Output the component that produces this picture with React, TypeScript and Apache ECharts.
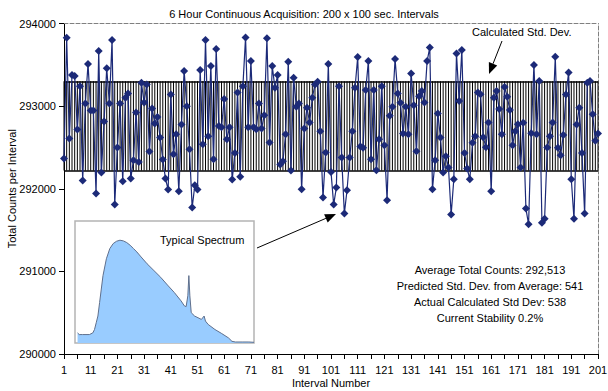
import React, { useEffect, useRef } from "react";
import * as echarts from "echarts";

const FONT = "'Liberation Sans', Arial, sans-serif";

const titleText = "6 Hour Continuous Acquisition: 200 x 100 sec. Intervals";
const yAxisName = "Total Counts per Interval";
const xAxisName = "Interval Number";

const intervalCounts: number[] = [
  292366, 293828, 292608, 293376, 293364, 292717, 293242, 292099, 293032, 293509,
  292947, 292947, 291941, 293667, 292196, 292814, 293457, 293032, 293800, 291808,
  292499, 293032, 292091, 293101, 293154, 292123, 292345, 292923, 292325, 293283,
  293044, 293263, 292451, 292972, 292790, 292867, 292620, 292354, 292123, 291990,
  293141, 292418, 292661, 291970, 292778, 293424, 293000, 292479, 291772, 292042,
  291990, 293436, 292539, 293800, 292636, 293485, 292358, 293691, 292758, 292745,
  293085, 292600, 292745, 292111, 292434, 293166, 292144, 293242, 293832, 292745,
  293545, 292745, 292721, 293032, 292729, 292891, 293820, 292560, 293485, 293222,
  293376, 292293, 292333, 292661, 293537, 292220, 293343, 292992, 293032, 291994,
  292729, 292980, 292802, 293101, 293263, 293295, 292697, 291893, 292438, 293509,
  292204, 291808, 292014, 293242, 292378, 291699, 291982, 292378, 292697, 293222,
  293594, 292511, 292495, 293194, 293545, 292358, 293194, 292224, 292600, 293242,
  292527, 291861, 292883, 292992, 293570, 293154, 293040, 292669, 292992, 292661,
  293396, 293012, 292455, 293121, 293182, 293044, 293545, 293711, 291994, 292345,
  292911, 292620, 292196, 292394, 292257, 291687, 292115, 293638, 293061, 293679,
  292434, 292245, 292115, 292556, 292636, 293166, 293145, 292624, 292503, 292802,
  291970, 293101, 293182, 292964, 292661, 293230, 293113, 292952, 292527, 292697,
  292782, 292257, 292798, 291760, 291570, 292673, 293497, 292661, 293303, 291590,
  291638, 292499, 292636, 292802, 293598, 292495, 292406, 292650, 293141, 293408,
  292115, 291638, 292778, 292980, 292434, 291699, 293283, 293303, 292903, 292580,
  292669,
];

const intervalLabels: string[] = intervalCounts.map((_, i) => String(i + 1));

// Calculated std. dev. band (one column per interval)
const bandLow = 292220;
const bandHigh = 293300;

const yMin = 290000;
const yMax = 294000;
const yInterval = 1000;

// Inset: typical spectrum
const spectrumChannels: number[] = [
  0, 10, 30, 70, 90, 100, 110, 120, 130, 150, 170, 190, 210, 230, 250, 270, 290, 310,
  330, 350, 370, 410, 450, 490, 530, 570, 610, 630, 640, 650, 656, 662, 670, 690, 710,
  730, 746, 754, 770, 810, 850, 890, 910, 930, 970, 1010, 1040,
];
const spectrumCounts: number[] = [
  300, 250, 250, 250, 300, 400, 600, 800, 1200, 2000, 2500, 2800, 2950, 3020, 3050, 3030,
  2980, 2900, 2800, 2700, 2580, 2350, 2150, 1950, 1720, 1500, 1250, 1100, 1080, 1400, 2000,
  1400, 900, 800, 750, 700, 800, 650, 550, 400, 280, 150, 50, 30, 30, 30, 20,
];

const statsLines: string[] = [
  "Average Total Counts: 292,513",
  "Predicted Std. Dev. from Average: 541",
  "Actual Calculated Std Dev: 538",
  "Current Stability 0.2%",
];

function arrow(x1: number, y1: number, x2: number, y2: number, len = 11, half = 4.5): any[] {
  const a = Math.atan2(y2 - y1, x2 - x1);
  const bx = x2 - len * Math.cos(a);
  const by = y2 - len * Math.sin(a);
  const px = -Math.sin(a) * half;
  const py = Math.cos(a) * half;
  return [
    {
      type: "line",
      shape: { x1, y1, x2: bx, y2: by },
      style: { stroke: "#000", lineWidth: 1 },
      z: 50,
    },
    {
      type: "polygon",
      shape: { points: [[x2, y2], [bx + px, by + py], [bx - px, by - py]] },
      style: { fill: "#000" },
      z: 50,
    },
  ];
}

export default function App() {
  const ref = useRef<HTMLDivElement>(null);

  useEffect(() => {
    document.body.style.margin = "0";
    if (!ref.current) return;
    const chart = echarts.init(ref.current, null, { renderer: "svg" });
    const txt = { fontFamily: FONT, fontSize: 11, color: "#000" };

    chart.setOption({
      animation: false,
      backgroundColor: "#fff",
      textStyle: { fontFamily: FONT },
      title: {
        text: titleText,
        left: "center",
        top: 3,
        textStyle: { ...txt, fontWeight: "normal" },
      },
      grid: [
        {
          left: 64,
          right: 10,
          top: 23.5,
          bottom: 37,
          containLabel: false,
          outerBoundsMode: "none",
        },
        {
          left: 75,
          top: 221,
          width: 179,
          height: 122,
          show: true,
          backgroundColor: "#fff",
          borderColor: "#b4b4b4",
          borderWidth: 1.5,
          containLabel: false,
          outerBoundsMode: "none",
          z: 5,
        },
      ],
      xAxis: [
        {
          type: "category",
          gridIndex: 0,
          data: intervalLabels,
          boundaryGap: false,
          position: "bottom",
          name: xAxisName,
          nameLocation: "middle",
          nameGap: 23,
          nameMoveOverlap: false,
          nameTextStyle: txt,
          axisLine: { lineStyle: { color: "#000", width: 1 } },
          axisTick: { interval: 4, length: 5, lineStyle: { color: "#000" } },
          axisLabel: { interval: 9, margin: 10, ...txt },
          splitLine: { show: false },
        },
        {
          type: "category",
          gridIndex: 0,
          data: intervalLabels,
          boundaryGap: false,
          position: "top",
          axisLine: { show: true, lineStyle: { color: "#808080", type: "dashed", width: 1 } },
          axisTick: { show: false },
          axisLabel: { show: false },
          splitLine: { show: false },
        },
        {
          type: "value",
          gridIndex: 1,
          min: -15,
          max: 1040,
          show: false,
        },
      ],
      yAxis: [
        {
          type: "value",
          gridIndex: 0,
          min: yMin,
          max: yMax,
          interval: yInterval,
          name: yAxisName,
          nameLocation: "middle",
          nameGap: 47,
          nameMoveOverlap: false,
          nameTextStyle: txt,
          axisLine: { show: true, lineStyle: { color: "#000", width: 1 } },
          axisTick: { show: true, length: 5, lineStyle: { color: "#000" } },
          axisLabel: { margin: 8, ...txt, formatter: (v: number) => String(v) },
          splitLine: { show: false },
        },
        {
          type: "value",
          gridIndex: 0,
          min: yMin,
          max: yMax,
          interval: yInterval,
          position: "right",
          axisLine: { show: true, lineStyle: { color: "#808080", type: "dashed", width: 1 } },
          axisTick: { show: false },
          axisLabel: { show: false },
          splitLine: { show: false },
        },
        {
          type: "value",
          gridIndex: 1,
          min: 0,
          max: 3620,
          show: false,
        },
      ],
      series: [
        {
          type: "bar",
          xAxisIndex: 1,
          yAxisIndex: 0,
          stack: "band",
          silent: true,
          data: intervalLabels.map(() => bandLow),
          itemStyle: { color: "rgba(0,0,0,0)" },
          barWidth: 1,
        },
        {
          type: "bar",
          xAxisIndex: 1,
          yAxisIndex: 0,
          stack: "band",
          silent: true,
          data: intervalLabels.map(() => bandHigh - bandLow),
          itemStyle: { color: "#000" },
          barWidth: 1,
          markLine: {
            silent: true,
            symbol: "none",
            label: { show: false },
            lineStyle: { color: "#000", type: "solid", width: 1.5 },
            data: [{ yAxis: bandLow }, { yAxis: bandHigh }],
          },
        },
        {
          type: "line",
          xAxisIndex: 0,
          yAxisIndex: 0,
          data: intervalCounts,
          symbol: "diamond",
          symbolSize: 8,
          showAllSymbol: true,
          itemStyle: { color: "#1c2a78" },
          lineStyle: { color: "#1c2a78", width: 1.2 },
          z: 10,
        },
        {
          type: "line",
          xAxisIndex: 2,
          yAxisIndex: 2,
          data: spectrumChannels.map((c, i) => [c, spectrumCounts[i]]),
          symbol: "none",
          lineStyle: { color: "#5f6f8c", width: 1 },
          areaStyle: { color: "#99ccff", opacity: 1 },
          z: 12,
        },
      ],
      graphic: [
        {
          type: "text",
          left: 160,
          top: 234,
          z: 60,
          style: { text: "Typical Spectrum", fill: "#000", font: `11px ${FONT}` },
        },
        {
          type: "text",
          left: 472,
          top: 26,
          z: 60,
          style: { text: "Calculated Std. Dev.", fill: "#000", font: `11px ${FONT}` },
        },
        {
          type: "text",
          x: 490,
          y: 262,
          z: 60,
          style: {
            text: statsLines.join("\n"),
            fill: "#000",
            font: `11px ${FONT}`,
            align: "center",
            lineHeight: 16,
          },
        },
        ...arrow(257, 248, 336, 214),
        ...arrow(502, 41, 489, 74),
      ],
    });

    return () => chart.dispose();
  }, []);

  return <div ref={ref} style={{ width: 608, height: 391 }} />;
}
